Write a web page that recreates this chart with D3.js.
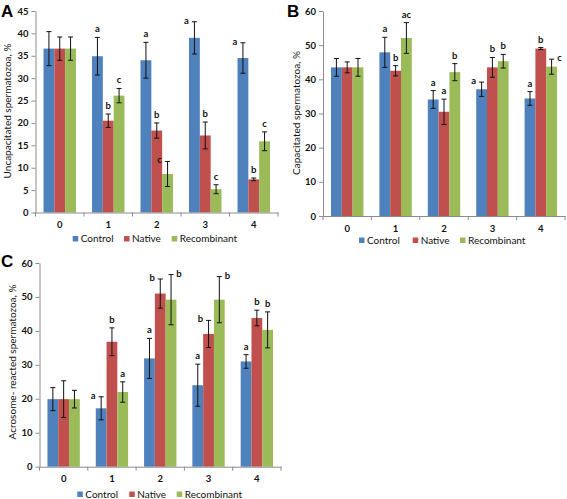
<!DOCTYPE html>
<html><head><meta charset="utf-8">
<script src="https://cdn.jsdelivr.net/npm/d3@7"></script>
<style>body{margin:0;background:#fff}svg{display:block}</style>
</head><body><svg id="chart" width="567" height="499"></svg>
<script>
const categories = ["0","1","2","3","4"];
const seriesNames = ["Control","Native","Recombinant"];
const seriesColors = ["#4F81BD","#C0504D","#9BBB59"];

// Panel A: Uncapacitated spermatozoa, %
const aControl    = [36.6, 34.9, 34.0, 39.0, 34.5];
const aControlErr = [3.8, 4.2, 4.0, 3.6, 3.4];
const aNative     = [36.6, 20.5, 18.3, 17.2, 7.4];
const aNativeErr  = [2.6, 1.5, 1.7, 3.0, 0.3];
const aRecomb     = [36.6, 26.1, 8.6, 5.2, 15.9];
const aRecombErr  = [2.6, 1.6, 2.8, 1.0, 2.1];
const aLetters = [["","a","a","a","a"],["","b","b","b","b"],["","c","c","c","c"]];
const aPlace   = [["","t","t","l","l"],["","t","t","t","t"],["","t","l","t","t"]];

// Panel B: Capacitated spermatozoa, %
const bControl    = [43.5, 47.9, 34.1, 37.1, 34.4];
const bControlErr = [2.6, 4.4, 2.6, 2.1, 2.0];
const bNative     = [43.5, 42.5, 30.5, 43.5, 49.0];
const bNativeErr  = [1.6, 1.5, 3.7, 2.9, 0.3];
const bRecomb     = [43.5, 52.1, 42.1, 45.3, 43.7];
const bRecombErr  = [2.6, 4.5, 2.5, 2.0, 2.2];
const bLetters = [["","a","a","a","a"],["","b","a","b","b"],["","ac","b","b","c"]];
const bPlace   = [["","t","t","l","t"],["","t","t","t","t"],["","t","t","t","r"]];

// Panel C: Acrosome- reacted spermatozoa, %
const cControl    = [19.9, 17.2, 31.9, 24.0, 31.0];
const cControlErr = [3.4, 3.4, 5.9, 6.2, 2.0];
const cNative     = [19.9, 36.8, 51.0, 39.1, 43.8];
const cNativeErr  = [5.4, 4.1, 4.3, 4.0, 2.3];
const cRecomb     = [19.9, 22.0, 49.2, 49.2, 40.3];
const cRecombErr  = [2.6, 3.0, 7.4, 6.8, 5.3];
const cLetters = [["","a","a","a","a"],["","b","b","b","b"],["","a","b","b","b"]];
const cPlace   = [["","l","t","t","t"],["","t","l","l","t"],["","t","r","r","t"]];

const panels = [
  {id:"A", title:"Uncapacitated spermatozoa, %", yMax:45, yStep:5,
   vals:[aControl,aNative,aRecomb], errs:[aControlErr,aNativeErr,aRecombErr], letters:aLetters, place:aPlace,
   L:{x0:35.5, x1:278, yTop:11, yBottom:212.5, tx:8, ty:111, px:1, py:17, legY:238.5, legX:[72.7,124,171.7]}},
  {id:"B", title:"Capacitated spermatozoa, %", yMax:60, yStep:10,
   vals:[bControl,bNative,bRecomb], errs:[bControlErr,bNativeErr,bRecombErr], letters:bLetters, place:bPlace,
   L:{x0:323, x1:565, yTop:11, yBottom:216, tx:297, ty:113, px:287, py:17, legY:240, legX:[359,412.7,460]}},
  {id:"C", title:"Acrosome- reacted spermatozoa, %", yMax:60, yStep:10,
   vals:[cControl,cNative,cRecomb], errs:[cControlErr,cNativeErr,cRecombErr], letters:cLetters, place:cPlace,
   L:{x0:39.5, x1:281, yTop:263, yBottom:466.7, tx:13, ty:362, px:1, py:267, legY:494, legX:[77.3,129.3,176.7]}}
];

const svg = d3.select("#chart");
const FONT = "Lato, 'Liberation Sans', Arial, sans-serif";

panels.forEach(p => {
  const L = p.L;
  const g = svg.append("g");
  const x = d3.scaleBand().domain(categories).range([L.x0, L.x1]);
  const xs = d3.scaleBand().domain(seriesNames).range([0, x.bandwidth()]).paddingOuter(0.74);
  const y = d3.scaleLinear().domain([0, p.yMax]).range([L.yBottom, L.yTop]);

  // y axis
  const ya = g.append("g").attr("transform", `translate(${L.x0},0)`)
    .call(d3.axisLeft(y).tickValues(d3.range(0, p.yMax + 0.001, p.yStep)).tickSize(4).tickPadding(3).tickSizeOuter(0));
  ya.select(".domain").attr("stroke", "#8c8c8c");
  ya.selectAll(".tick line").attr("stroke", "#8c8c8c");
  ya.selectAll(".tick text").attr("font-family", FONT).attr("font-size", 9.5).attr("font-weight", "bold").attr("fill", "#111");

  // bars
  seriesNames.forEach((name, si) => {
    const vals = p.vals[si];
    g.append("g").selectAll("rect").data(categories).join("rect")
      .attr("x", c => x(c) + xs(name))
      .attr("width", xs.bandwidth())
      .attr("y", (c, i) => y(vals[i]))
      .attr("height", (c, i) => y(0) - y(vals[i]))
      .attr("fill", seriesColors[si]);
  });

  // error bars
  seriesNames.forEach((name, si) => {
    const vals = p.vals[si], errs = p.errs[si];
    const eg = g.append("g").attr("stroke", "#111").attr("stroke-width", 1);
    categories.forEach((c, i) => {
      const cx = x(c) + xs(name) + xs.bandwidth() / 2;
      const yt = y(vals[i] + errs[i]), yb = y(vals[i] - errs[i]);
      eg.append("line").attr("x1", cx).attr("x2", cx).attr("y1", yt).attr("y2", yb);
      eg.append("line").attr("x1", cx - 2.5).attr("x2", cx + 2.5).attr("y1", yt).attr("y2", yt);
      eg.append("line").attr("x1", cx - 2.5).attr("x2", cx + 2.5).attr("y1", yb).attr("y2", yb);
    });
  });

  // significance letters
  seriesNames.forEach((name, si) => {
    categories.forEach((c, i) => {
      const lt = p.letters[si][i];
      if (!lt) return;
      const pl = p.place[si][i];
      const cx = x(c) + xs(name) + xs.bandwidth() / 2;
      const yt = y(p.vals[si][i] + p.errs[si][i]);
      const dx = pl === "l" ? -8 : pl === "r" ? 8 : 0;
      const by = pl === "t" ? yt - 5 : yt + 2;
      g.append("text").attr("x", cx + dx).attr("y", by).attr("text-anchor", "middle")
        .attr("font-family", FONT).attr("font-size", 9.5).attr("font-weight", "bold").attr("fill", "#111").text(lt);
    });
  });

  // x axis
  const xa = g.append("g").attr("transform", `translate(0,${L.yBottom})`)
    .call(d3.axisBottom(x).tickSize(0).tickPadding(9).tickSizeOuter(0));
  xa.select(".domain").attr("stroke", "#8c8c8c");
  xa.selectAll(".tick text").attr("font-family", FONT).attr("font-size", 9.5).attr("font-weight", "bold").attr("fill", "#111");
  g.append("g").selectAll("line").data(categories.map(c => x(c)).concat([L.x1])).join("line")
    .attr("x1", d => d).attr("x2", d => d).attr("y1", L.yBottom).attr("y2", L.yBottom + 4)
    .attr("stroke", "#8c8c8c");

  // legend
  seriesNames.forEach((name, si) => {
    g.append("rect").attr("x", L.legX[si]).attr("y", L.legY - 2.5).attr("width", 5.5).attr("height", 5.5).attr("fill", seriesColors[si]);
    g.append("text").attr("x", L.legX[si] + 8).attr("y", L.legY + 3.5)
      .attr("font-family", FONT).attr("font-size", 10).attr("fill", "#111").text(name);
  });

  // y title
  g.append("text").attr("transform", `translate(${L.tx},${L.ty}) rotate(-90)`)
    .attr("text-anchor", "middle").attr("dominant-baseline", "middle")
    .attr("font-family", FONT).attr("font-size", 10).attr("fill", "#111").text(p.title);

  // panel letter
  g.append("text").attr("x", L.px).attr("y", L.py)
    .attr("font-family", "'Liberation Sans', Arial, sans-serif").attr("font-size", 17).attr("font-weight", "bold")
    .attr("fill", "#000").text(p.id);
});
</script>
</body></html>
